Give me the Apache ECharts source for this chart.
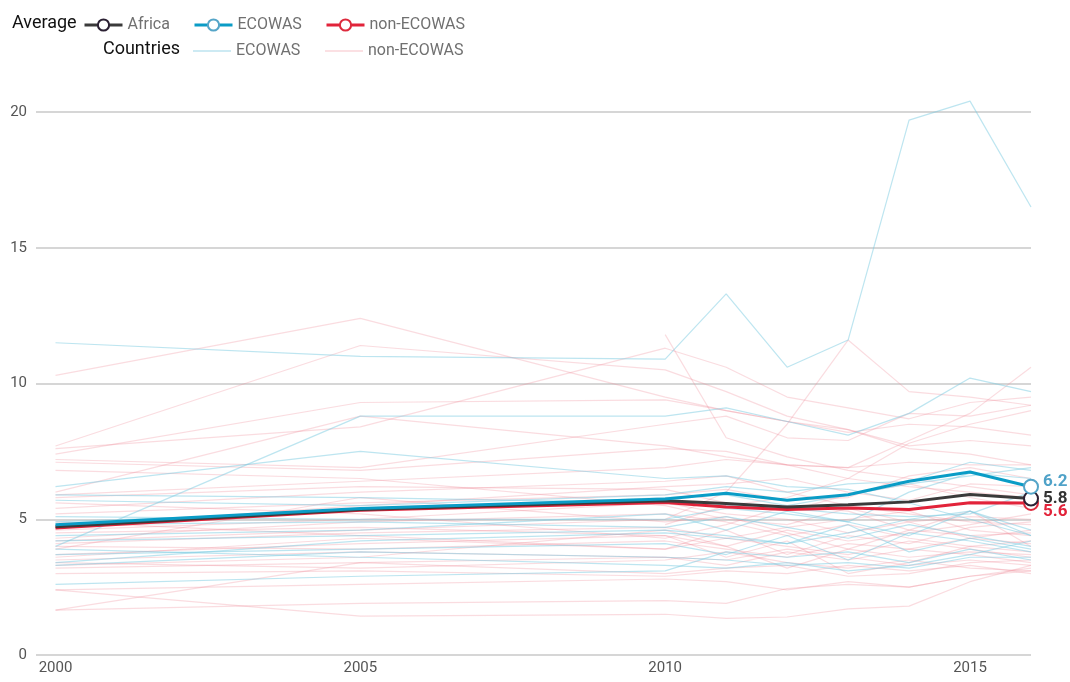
<!DOCTYPE html>
<html>
<head>
<meta charset="utf-8">
<script src="https://cdn.jsdelivr.net/npm/echarts@6/dist/echarts.min.js"></script>
<style>
	html, body { margin: 0; padding: 0; background: #fff; }
	#chart { width: 1070px; height: 682px; }
</style>
</head>
<body>
<div id="chart"></div>
<script>
// years with observations
var years = [ 2000, 2005, 2010, 2011, 2012, 2013, 2014, 2015, 2016 ];

// averages
var avgAfrica = [ 4.72, 5.36, 5.68, 5.58, 5.45, 5.53, 5.64, 5.91, 5.76 ];
var avgEcowas = [ 4.8, 5.4, 5.75, 5.96, 5.7, 5.9, 6.4, 6.74, 6.2 ];
var avgNonEcowas = [ 4.68, 5.33, 5.62, 5.45, 5.36, 5.41, 5.36, 5.61, 5.6 ];

// single countries, ECOWAS members
var ecowasCountries = [
	[ 11.5, 11.0, 10.9, 13.3, 10.6, 11.6, 19.7, 20.4, 16.5 ],
	[ 6.2, 7.5, 6.5, 6.6, 6.2, 6.1, 5.6, 5.0, 4.4 ],
	[ 4.0, 8.8, 8.8, 9.1, 8.6, 8.1, 8.9, 10.2, 9.7 ],
	[ 5.7, 5.5, 5.9, 6.2, 6.0, 6.3, 6.4, 7.1, 6.8 ],
	[ 5.1, 5.0, 5.0, 5.4, 5.2, 4.9, 6.0, 6.7, 6.5 ],
	[ 4.4, 4.6, 5.2, 4.6, 5.3, 4.9, 4.4, 5.3, 4.4 ],
	[ 4.2, 4.4, 4.6, 4.4, 4.1, 4.8, 3.8, 4.3, 3.9 ],
	[ 3.7, 3.9, 4.1, 3.7, 4.4, 3.5, 4.5, 4.2, 3.8 ],
	[ 3.3, 3.8, 3.6, 3.5, 3.3, 3.4, 3.2, 3.6, 3.6 ],
	[ 2.6, 2.9, 3.1, 3.8, 3.6, 3.8, 3.4, 3.9, 3.5 ],
	[ 3.4, 4.2, 4.5, 4.3, 4.1, 4.5, 5.0, 5.3, 4.6 ],
	[ 4.9, 5.3, 5.8, 5.9, 5.5, 5.9, 6.3, 6.6, 6.9 ],
	[ 5.9, 5.8, 5.6, 5.5, 5.4, 5.2, 5.1, 5.2, 6.0 ],
	[ 4.8, 4.9, 4.7, 5.1, 4.7, 4.3, 4.8, 4.4, 4.0 ],
	[ 3.9, 3.6, 3.3, 3.2, 3.4, 3.1, 3.3, 3.7, 4.2 ]
];

// single countries, not in ECOWAS
var nonEcowasCountries = [
	[ 10.3, 12.4, 9.5, 9.0, 8.6, 8.2, 8.5, 8.4, 8.1 ],
	[ 7.7, 11.4, 10.5, 9.7, 8.8, 8.3, 7.7, 7.9, 7.7 ],
	[ 7.6, 8.4, 11.3, 10.6, 9.5, 9.1, 8.7, 9.3, 9.5 ],
	[ null, null, 11.8, 8.0, 7.3, 6.8, 6.5, 6.2, 5.9 ],
	[ 4.2, 4.6, 5.0, 6.0, 8.5, 11.6, 9.7, 9.5, 9.2 ],
	[ 7.4, 9.3, 9.4, 9.0, 8.6, 8.3, 7.6, 7.4, 7.0 ],
	[ 7.2, 6.9, 8.5, 8.8, 8.0, 7.9, 8.9, 8.8, 9.2 ],
	[ 7.1, 6.8, 7.6, 7.5, 7.0, 6.9, 7.9, 8.9, 10.6 ],
	[ 6.0, 8.8, 7.7, 7.3, 7.0, 6.5, 6.2, 6.0, 5.8 ],
	[ 5.9, 6.4, 6.9, 7.2, 7.0, 6.9, 7.1, 7.0, 7.0 ],
	[ 5.8, 6.2, 6.1, 5.6, 5.3, 5.9, 6.3, 5.8, 5.4 ],
	[ 5.4, 6.0, 6.4, 6.6, 6.0, 5.5, 5.2, 4.9, 4.8 ],
	[ 4.7, 5.5, 6.2, 6.3, 6.5, 6.0, 5.7, 6.3, 6.2 ],
	[ 4.6, 5.0, 5.6, 5.2, 5.0, 4.5, 4.9, 5.1, 5.0 ],
	[ 4.5, 4.7, 4.4, 4.0, 4.6, 4.2, 4.5, 4.8, 5.2 ],
	[ 4.3, 4.9, 5.2, 4.9, 4.4, 4.8, 4.3, 4.0, 4.2 ],
	[ 4.1, 4.5, 4.7, 4.3, 4.7, 5.0, 5.3, 4.6, 4.4 ],
	[ 4.0, 3.9, 4.2, 3.9, 3.6, 4.1, 3.9, 4.3, 4.6 ],
	[ 3.9, 5.8, 4.9, 5.1, 4.5, 3.9, 3.6, 3.8, 3.7 ],
	[ 3.6, 4.3, 3.9, 4.3, 4.0, 3.7, 4.2, 3.9, 3.6 ],
	[ 3.5, 3.8, 3.6, 3.5, 3.9, 3.6, 3.3, 3.5, 3.3 ],
	[ 3.4, 3.2, 3.5, 3.8, 3.4, 3.2, 3.5, 3.2, 3.1 ],
	[ 3.3, 3.6, 4.6, 4.0, 3.2, 3.9, 4.6, 5.3, 4.0 ],
	[ 3.0, 3.1, 2.9, 3.1, 3.0, 3.3, 3.1, 3.3, 3.0 ],
	[ 2.4, 2.6, 2.8, 2.7, 2.4, 2.7, 2.5, 2.9, 3.2 ],
	[ 1.65, 3.4, 3.6, 3.3, 3.8, 3.5, 3.9, 3.7, 3.4 ],
	[ 2.4, 1.43, 1.5, 1.35, 1.4, 1.7, 1.8, 2.7, 3.3 ],
	[ 1.65, 1.9, 2.0, 1.9, 2.45, 2.6, 2.5, 2.9, 3.1 ],
	[ 5.6, 5.2, 4.3, 4.8, 5.5, 5.3, 4.6, 4.4, 4.5 ],
	[ null, null, 4.8, 5.5, 5.8, 6.5, 7.8, 8.5, 9.0 ],
	[ 4.9, 4.4, 3.9, 4.6, 3.7, 4.4, 4.1, 4.7, 4.9 ],
	[ 3.7, 4.1, 4.4, 3.6, 4.2, 3.0, 3.4, 4.0, 3.8 ],
	[ 5.2, 5.6, 5.9, 6.1, 5.7, 5.8, 6.6, 6.9, 6.5 ],
	[ 3.2, 3.4, 3.0, 3.2, 3.3, 2.9, 3.0, 3.4, 3.5 ],
	[ 6.8, 6.5, 5.5, 5.0, 4.8, 5.4, 4.9, 4.3, 4.1 ]
];

var xLabels = [ 2000, 2005, 2010, 2015 ];

var font = "Roboto, 'Liberation Sans', sans-serif";

function pairs(vals) {
	var out = [];
	for (var i = 0; i < years.length; i++) {
		if (vals[i] != null) {
			out.push([ years[i], vals[i] ]);
		}
	}
	return out;
}

var series = [];
// thin country lines go underneath
for (var i = 0; i < nonEcowasCountries.length; i++) {
	series.push({
		name : 'non-ECOWAS countries',
		type : 'line',
		data : pairs(nonEcowasCountries[i]),
		symbol : 'none',
		silent : true,
		clip : false,
		z : 1,
		lineStyle : { color : '#f08c98', width : 1.2, opacity : 0.3 },
		itemStyle : { color : '#f08c98' }
	});
}
for (var i = 0; i < ecowasCountries.length; i++) {
	series.push({
		name : 'ECOWAS countries',
		type : 'line',
		data : pairs(ecowasCountries[i]),
		symbol : 'none',
		silent : true,
		clip : false,
		z : 1,
		lineStyle : { color : '#7ccbe2', width : 1.2, opacity : 0.5 },
		itemStyle : { color : '#7ccbe2' }
	});
}

function avgSeries(name, vals, color, ringColor, labelColor, offset) {
	var last = vals.length - 1;
	return {
		name : name,
		type : 'line',
		data : pairs(vals),
		z : 3,
		clip : false,
		symbol : 'emptyCircle',
		symbolSize : function(v, p) {
			return p.dataIndex === last ? 14 : 0;
		},
		showAllSymbol : true,
		lineStyle : { color : color, width : 3 },
		itemStyle : { color : ringColor, borderColor : ringColor, borderWidth : 2.5 },
		endLabel : {
			show : true,
			distance : 12,
			offset : offset,
			color : labelColor,
			fontFamily : font,
			fontSize : 17,
			fontWeight : 'bold',
			formatter : function(p) {
				return p.value[1].toFixed(1);
			}
		}
	};
}
series.push(avgSeries('non-ECOWAS', avgNonEcowas, '#e2233a', '#dd2a3d', '#e2233a', [ 0, 9 ]));
series.push(avgSeries('Africa', avgAfrica, '#3a3a3a', '#2b2033', '#333333', [ 0, 0 ]));
series.push(avgSeries('ECOWAS', avgEcowas, '#0a9cc6', '#55a5c8', '#4fa2c8', [ 0, -5 ]));

// one legend per item so the two rows line up in columns
function legendAt(left, top, name, label, lineColor) {
	var lg = {
		left : left,
		top : top,
		padding : 0,
		data : [ name ],
		selectedMode : false,
		itemWidth : 38,
		itemHeight : 14,
		itemGap : 8,
		textStyle : { color : '#707070', fontSize : 16, fontFamily : font },
		lineStyle : { width : 3 },
		formatter : function() {
			return label;
		}
	};
	if (lineColor) {
		lg.icon = 'rect';
		lg.itemHeight = 2;
		lg.itemStyle = { color : lineColor };
	}
	return lg;
}

var chart = echarts.init(document.getElementById('chart'));
var option = {
	animation : false,
	backgroundColor : '#fff',
	textStyle : { fontFamily : font },
	grid : { left : 36, right : 39, top : 112, bottom : 27, containLabel : false },
	legend : [
		legendAt(83, 17, 'Africa', 'Africa'),
		legendAt(193, 17, 'ECOWAS', 'ECOWAS'),
		legendAt(325, 17, 'non-ECOWAS', 'non-ECOWAS'),
		legendAt(193, 43, 'ECOWAS countries', 'ECOWAS', '#cdeaf3'),
		legendAt(325, 43, 'non-ECOWAS countries', 'non-ECOWAS', '#fbe0e3')
	],
	graphic : [ {
		type : 'text',
		left : 12,
		top : 14,
		style : { text : 'Average', fill : '#111', fontSize : 18, fontFamily : font }
	}, {
		type : 'text',
		right : 1070 - 180,
		top : 40,
		style : { text : 'Countries', fill : '#111', fontSize : 18, fontFamily : font }
	} ],
	xAxis : {
		type : 'value',
		min : 1999.68,
		max : 2016,
		axisLine : { show : false },
		axisTick : { show : false },
		splitLine : { show : false },
		axisLabel : {
			customValues : xLabels,
			color : '#555',
			fontSize : 15,
			margin : 6,
			fontFamily : font,
			formatter : function(v) {
				return String(v);
			}
		}
	},
	yAxis : {
		type : 'value',
		min : 0,
		max : 20,
		interval : 5,
		axisLine : { show : false },
		axisTick : { show : false },
		axisLabel : { color : '#555', fontSize : 15, margin : 9, fontFamily : font },
		splitLine : { lineStyle : { color : '#c8c8c8', width : 1.5 } }
	},
	series : series
};
chart.setOption(option);
</script>
</body>
</html>
